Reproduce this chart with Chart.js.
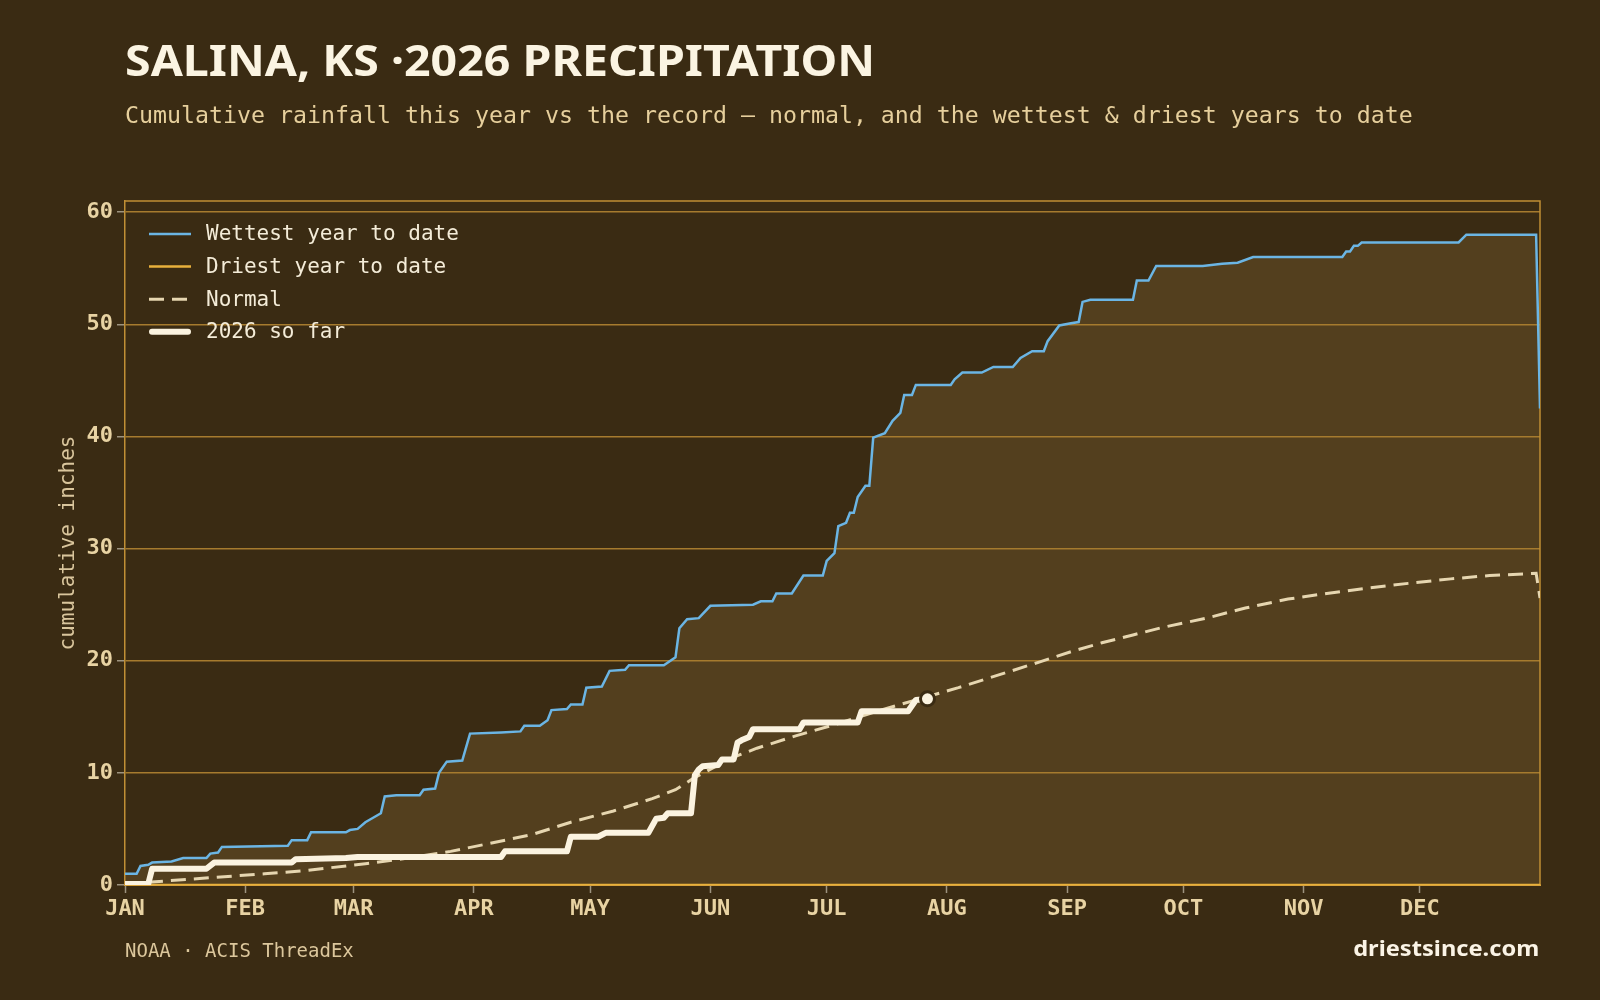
<!DOCTYPE html>
<html>
<head>
<meta charset="utf-8">
<title>Salina, KS 2026 precipitation</title>
<script src="https://cdn.jsdelivr.net/npm/chart.js@4.4.1/dist/chart.umd.min.js"></script>
<style>
  html, body { margin: 0; padding: 0; background: #3a2b13; }
  #wrap { position: relative; width: 1600px; height: 1000px; overflow: hidden; }
  #chart { position: absolute; left: 0; top: 0; }
  .txt { position: absolute; white-space: nowrap; line-height: 1; }
  #title { left: 125px; top: 29px; font: 700 43.5px "Noto Sans", sans-serif; color: #fbf4e2; transform-origin: left top; }
  #subtitle { left: 125px; top: 101px; font: 400 23.25px "DejaVu Sans Mono", monospace; color: #e6cf9c; }
  #source { left: 125px; top: 939px; font: 400 19px "DejaVu Sans Mono", monospace; color: #dcc79c; }
  #site { right: 61px; top: 932px; font: 700 22px "Noto Sans", sans-serif; color: #fbf4e6; transform-origin: right top; }
</style>
</head>
<body>
<div id="wrap">
  <canvas id="chart" width="1600" height="1000"></canvas>
  <div class="txt" id="title">SALINA, KS ·2026 PRECIPITATION</div>
  <div class="txt" id="subtitle">Cumulative rainfall this year vs the record — normal, and the wettest &amp; driest years to date</div>
  <div class="txt" id="source">NOAA · ACIS ThreadEx</div>
  <div class="txt" id="site">driestsince.com</div>
</div>
<script>
// Axis labels (day of year where each month starts)
const monthStarts = [0, 31, 59, 90, 120, 151, 181, 212, 243, 273, 304, 334];
const monthLabels = ["JAN", "FEB", "MAR", "APR", "MAY", "JUN", "JUL", "AUG", "SEP", "OCT", "NOV", "DEC"];
const yTicks = [0, 10, 20, 30, 40, 50, 60];

// Cumulative inches, [day of year, value]
const wettest = [
  [0, 1.0], [3, 1.0], [4, 1.7], [6, 1.8], [7, 2.0], [12, 2.1], [15, 2.4], [21, 2.4], [22, 2.8], [24, 2.9],
  [25, 3.4], [42, 3.5], [43, 4.0], [47, 4.0], [48, 4.7], [57, 4.7], [58, 4.9], [60, 5.0], [62, 5.6], [64, 6.0],
  [66, 6.4], [67, 7.9], [70, 8.0], [76, 8.0], [77, 8.5], [80, 8.6], [81, 10.0], [83, 11.0], [87, 11.1], [89, 13.5],
  [97, 13.6], [102, 13.7], [103, 14.2], [107, 14.2], [109, 14.7], [110, 15.6], [114, 15.7], [115, 16.1], [118, 16.1], [119, 17.6],
  [123, 17.7], [125, 19.1], [129, 19.2], [130, 19.6], [139, 19.6], [142, 20.3], [143, 22.9], [145, 23.7], [148, 23.8], [151, 24.9],
  [162, 25.0], [164, 25.3], [167, 25.3], [168, 26.0], [172, 26.0], [175, 27.6], [180, 27.6], [181, 28.9], [183, 29.6], [184, 32.0],
  [186, 32.3], [187, 33.2], [188, 33.2], [189, 34.6], [191, 35.6], [192, 35.6], [193, 39.9], [196, 40.3], [198, 41.4], [200, 42.1],
  [201, 43.7], [203, 43.7], [204, 44.6], [213, 44.6], [214, 45.1], [216, 45.7], [221, 45.7], [224, 46.2], [229, 46.2], [231, 47.0],
  [234, 47.6], [237, 47.6], [238, 48.5], [241, 49.9], [244, 50.1], [246, 50.2], [247, 52.0], [249, 52.2], [260, 52.2], [261, 53.9],
  [264, 53.9], [266, 55.2], [278, 55.2], [283, 55.4], [287, 55.5], [291, 56.0], [314, 56.0], [315, 56.5], [316, 56.5], [317, 57.0],
  [318, 57.0], [319, 57.3], [344, 57.3], [346, 58.0], [364, 58.0], [365, 42.5],
];
const driest = [[0, 0], [365, 0]];
const normal = [
  [0, 0.1], [20, 0.6], [36, 1.0], [47, 1.3], [62, 1.9], [73, 2.4], [84, 3.0], [94, 3.7], [105, 4.5], [115, 5.6],
  [126, 6.6], [136, 7.7], [142, 8.5], [147, 9.6], [152, 10.5], [157, 11.4], [163, 12.2], [173, 13.3], [184, 14.4], [194, 15.5],
  [205, 16.6], [215, 17.6], [226, 18.8], [236, 19.9], [244, 20.8], [252, 21.6], [260, 22.3], [268, 23.0], [279, 23.8], [289, 24.7],
  [300, 25.5], [310, 26.0], [321, 26.5], [331, 26.9], [342, 27.3], [352, 27.6], [364, 27.8], [365, 25.6],
];
const soFar = [
  [0, 0.1], [6, 0.1], [7, 1.45], [21, 1.45], [23, 2.0], [43, 2.0], [44, 2.3], [57, 2.4], [60, 2.5], [97, 2.5],
  [98, 3.0], [114, 3.0], [115, 4.3], [122, 4.3], [124, 4.65], [135, 4.65], [137, 5.9], [139, 6.0], [140, 6.4], [146, 6.4],
  [147, 9.8], [148, 10.3], [149, 10.6], [153, 10.7], [154, 11.2], [157, 11.2], [158, 12.7], [159, 12.9], [161, 13.2], [162, 13.9],
  [174, 13.9], [175, 14.5], [189, 14.5], [190, 15.5], [202, 15.5], [204, 16.5], [207, 16.6],
];

const toPts = (arr) => arr.map(([x, y]) => ({ x, y }));

const TICK_COLOR = "#e8d3a3";
const GRID_COLOR = "#a67b2e";
const FRAME_COLOR = "#c08f35";
const MONO = '"DejaVu Sans Mono", monospace';

// Legend drawn inside the plot, top-left
const insideLegend = {
  id: "insideLegend",
  afterDraw(chart) {
    const { ctx, chartArea } = chart;
    const x0 = chartArea.left + 24;
    ctx.save();
    chart.data.datasets.forEach((ds, i) => {
      const y = chartArea.top + 33 + i * 32.6;
      ctx.strokeStyle = ds.borderColor;
      ctx.lineWidth = ds.borderWidth;
      ctx.lineCap = ds.borderCapStyle || "butt";
      ctx.setLineDash(ds.borderDash || []);
      ctx.beginPath();
      const pad = ds.borderCapStyle === "round" ? 3 : 0;
      ctx.moveTo(x0 + pad, y);
      ctx.lineTo(x0 + 42 - pad, y);
      ctx.stroke();
      ctx.setLineDash([]);
      ctx.fillStyle = "#f4ecd8";
      ctx.font = "21px " + MONO;
      ctx.textBaseline = "middle";
      ctx.fillText(ds.label, x0 + 57, y + 1);
    });
    ctx.restore();
  },
};

// Top and right edges of the plot frame
const frame = {
  id: "frame",
  beforeDatasetsDraw(chart) {
    const { ctx, chartArea } = chart;
    ctx.save();
    ctx.strokeStyle = FRAME_COLOR;
    ctx.lineWidth = 1.5;
    ctx.beginPath();
    ctx.moveTo(chartArea.left, chartArea.top);
    ctx.lineTo(chartArea.right, chartArea.top);
    ctx.lineTo(chartArea.right, chartArea.bottom);
    ctx.stroke();
    ctx.restore();
  },
};

new Chart(document.getElementById("chart"), {
  type: "line",
  data: {
    datasets: [
      {
        label: "Wettest year to date",
        data: toPts(wettest),
        borderColor: "#6bb5e4",
        borderWidth: 2.5,
        backgroundColor: "#533f1e",
        fill: "origin",
        pointRadius: 0,
        order: 3,
      },
      {
        label: "Driest year to date",
        data: toPts(driest),
        borderColor: "#e8b13c",
        borderWidth: 2.5,
        pointRadius: 0,
        order: 2,
      },
      {
        label: "Normal",
        data: toPts(normal),
        borderColor: "#e6d6b0",
        borderWidth: 3,
        borderDash: [15, 8],
        pointRadius: 0,
        order: 1,
      },
      {
        label: "2026 so far",
        data: toPts(soFar),
        borderColor: "#fbf3e0",
        borderWidth: 6,
        borderCapStyle: "round",
        borderJoinStyle: "round",
        pointRadius: (c) => (c.dataIndex === soFar.length - 1 ? 7 : 0),
        pointBackgroundColor: "#fbf3e0",
        pointBorderColor: "#3a2b13",
        pointBorderWidth: 3,
        order: 0,
      },
    ],
  },
  options: {
    responsive: false,
    animation: false,
    events: [],
    devicePixelRatio: 1,
    layout: { padding: { top: 201, right: 60, left: 0, bottom: 0 } },
    elements: { line: { tension: 0 } },
    plugins: {
      legend: { display: false },
      tooltip: { enabled: false },
      filler: { drawTime: "beforeDraw" },
    },
    scales: {
      x: {
        type: "linear",
        min: 0,
        max: 365,
        afterBuildTicks: (s) => { s.ticks = monthStarts.map((v) => ({ value: v })); },
        afterFit: (s) => { s.height = 115; },
        ticks: {
          autoSkip: false,
          maxRotation: 0,
          padding: 3,
          color: TICK_COLOR,
          font: { family: MONO, size: 22, weight: "bold" },
          callback: (v) => monthLabels[monthStarts.indexOf(v)],
        },
        grid: { drawOnChartArea: false, tickLength: 8, tickColor: "#9d937f", tickWidth: 1.5 },
        border: { color: "#d9a23a", width: 2 },
      },
      y: {
        min: 0,
        max: 61,
        afterBuildTicks: (s) => { s.ticks = yTicks.map((v) => ({ value: v })); },
        afterFit: (s) => { s.width = 125; },
        ticks: {
          padding: 4,
          color: TICK_COLOR,
          font: { family: MONO, size: 22, weight: "bold" },
        },
        grid: { color: GRID_COLOR, lineWidth: 1.5, tickLength: 8, tickColor: "#9d937f", tickWidth: 1.5 },
        border: { color: FRAME_COLOR, width: 1.5 },
        title: {
          display: true,
          text: "cumulative inches",
          color: "#d9c59c",
          font: { family: MONO, size: 21 },
          padding: { top: 56, bottom: 0 },
        },
      },
    },
  },
  plugins: [frame, insideLegend],
});

// Squeeze the sans headings to the reference widths
function fitWidth(id, w) {
  const el = document.getElementById(id);
  el.style.transform = "scaleX(" + w / el.getBoundingClientRect().width + ")";
}
fitWidth("title", 750);
fitWidth("site", 186);
</script>
</body>
</html>
